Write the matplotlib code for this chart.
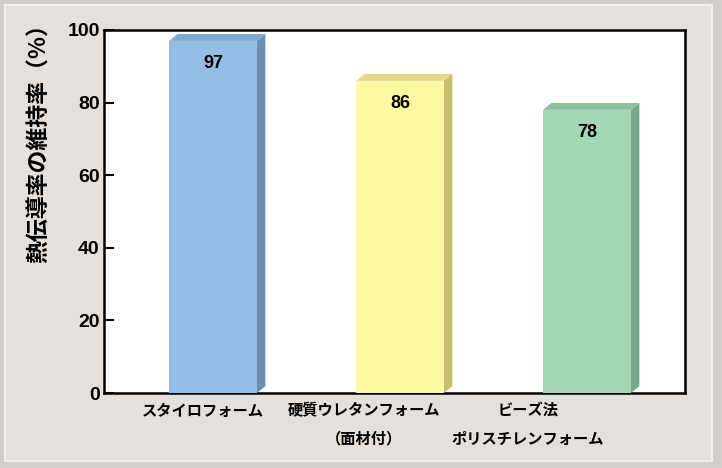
import matplotlib
matplotlib.use("Agg")
import matplotlib.pyplot as plt
import matplotlib.transforms as mtransforms
from matplotlib.patches import Rectangle, Polygon

plt.rcParams['font.family'] = ['Noto Sans CJK JP', 'DejaVu Sans']

# data
categories = ['スタイロフォーム', '硬質ウレタンフォーム\n（面材付）', 'ビーズ法\nポリスチレンフォーム']
values = [97, 86, 78]
y_ticks = [0, 20, 40, 60, 80, 100]
y_label = '熱伝導率の維持率（%）'

front_colors = ['#93bee5', '#fff8a2', '#a4d8b4']
side_colors = ['#6b8fb4', '#c8bf6e', '#78a887']
top_colors = ['#80a8cf', '#e2d98c', '#8dbf9c']

W, H = 722, 468
fig = plt.figure(figsize=(W / 100, H / 100), dpi=100, facecolor='#d3cdca')

# bevelled background frame
frame = Rectangle((5 / W, 7 / H), 707 / W, 456 / H, transform=fig.transFigure,
                  facecolor='#e4e0dd', edgecolor='#f3f1ef', linewidth=1.5, zorder=-10)
fig.add_artist(frame)

ax = fig.add_axes([104 / W, 1 - 393 / H, 581 / W, 363 / H])
ax.set_facecolor('white')

xs = list(range(len(values)))
width = 0.47
dx, dy = 0.045, 1.9  # 3d depth in data units

ax.bar(xs, values, width=width, color=front_colors, zorder=3, linewidth=0)
for x, v, sc, tc in zip(xs, values, side_colors, top_colors):
    r = x + width / 2
    l = x - width / 2
    ax.add_patch(Polygon([(r, 0), (r + dx, dy), (r + dx, v + dy), (r, v)],
                         closed=True, facecolor=sc, edgecolor='none', zorder=2))
    ax.add_patch(Polygon([(l, v), (l + dx, v + dy), (r + dx, v + dy), (r, v)],
                         closed=True, facecolor=tc, edgecolor='none', zorder=2))
    ax.annotate(str(v), (x, v), xytext=(0, -16), textcoords='offset points',
                ha='center', va='center', fontsize=13, fontweight='bold',
                family=['Liberation Sans', 'DejaVu Sans'], zorder=4)

ax.set_xlim(-0.583, 2.524)
ax.set_ylim(0, 100)
ax.set_yticks(y_ticks)
ax.set_yticklabels([str(t) for t in y_ticks], fontsize=14, fontweight='bold',
                   family=['Liberation Sans', 'DejaVu Sans'])
ax.tick_params(axis='y', direction='in', length=7, width=1.5, pad=3, colors='black')

ax.set_xticks(xs)
ax.set_xticklabels(categories, fontsize=11, fontweight='bold', linespacing=1.9,
                   va='top', ha='center')
ax.tick_params(axis='x', length=0, pad=7)
# the original labels sit left of the bars, more so further right
label_shift = [-10, -36, -59]
for lab, s in zip(ax.get_xticklabels(), label_shift):
    lab.set_transform(lab.get_transform() +
                      mtransforms.ScaledTranslation(s / 100, 0, fig.dpi_scale_trans))

for sp in ax.spines.values():
    sp.set_linewidth(1.8)
    sp.set_color('black')

ax.set_ylabel(y_label, fontsize=16.5, fontweight='bold')
ax.yaxis.set_label_coords(-0.092, 0.705)

fig.savefig('out.png', dpi=100, facecolor=fig.get_facecolor())
